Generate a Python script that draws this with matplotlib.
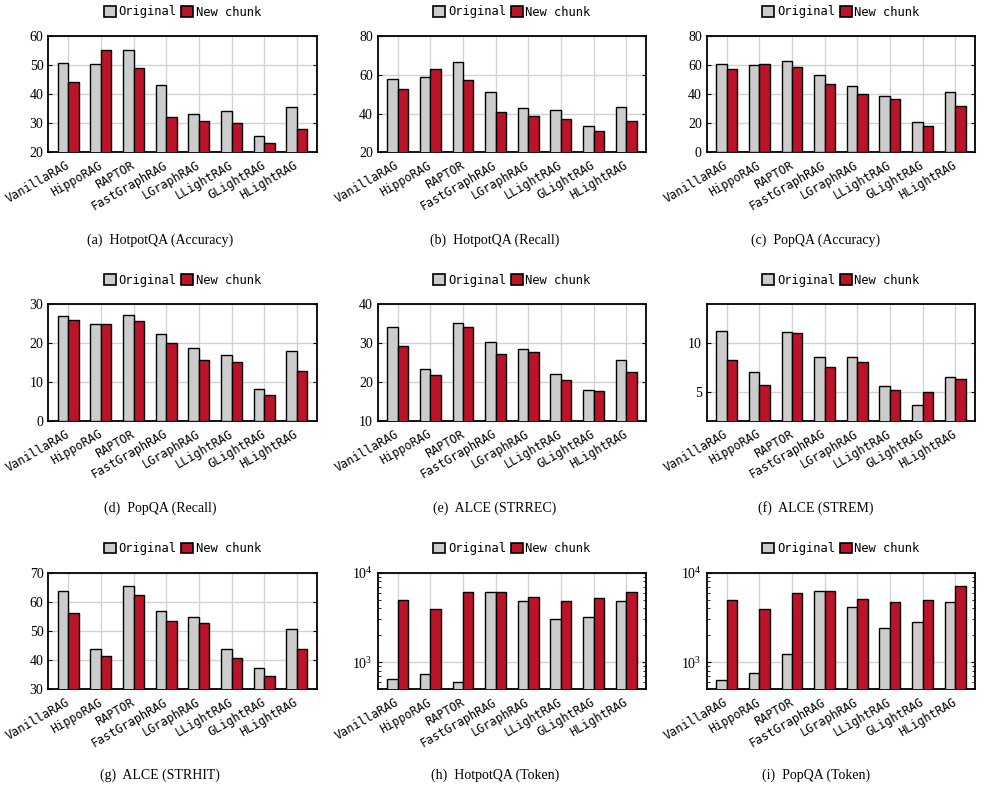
import numpy as np
import matplotlib
matplotlib.use("Agg")
import matplotlib.pyplot as plt
from matplotlib.patches import Patch
from matplotlib.ticker import LogLocator, NullFormatter, FixedLocator

plt.rcParams["font.family"] = ["Liberation Serif", "DejaVu Serif"]
plt.rcParams["mathtext.fontset"] = "stix"

methods = ["VanillaRAG", "HippoRAG", "RAPTOR", "FastGraphRAG", "LGraphRAG",
           "LLightRAG", "GLightRAG", "HLightRAG"]

hotpot_acc_orig = [50.8, 50.4, 55.3, 43.3, 33.2, 34.2, 25.7, 35.7]
hotpot_acc_new = [44.3, 55.2, 48.9, 32.3, 30.8, 30.0, 23.3, 27.9]
hotpot_rec_orig = [57.7, 58.9, 66.4, 51.1, 42.7, 41.8, 33.4, 43.4]
hotpot_rec_new = [52.7, 62.8, 57.3, 41.0, 38.9, 37.4, 31.0, 36.2]
popqa_acc_orig = [61.0, 59.8, 62.6, 53.4, 45.4, 39.0, 21.1, 41.3]
popqa_acc_new = [57.1, 60.5, 58.9, 46.8, 40.3, 36.4, 18.3, 31.6]
popqa_rec_orig = [27.0, 24.9, 27.3, 22.4, 18.7, 16.8, 8.2, 18.0]
popqa_rec_new = [25.9, 25.0, 25.7, 20.0, 15.6, 15.0, 6.7, 12.8]
alce_strrec_orig = [34.2, 23.3, 35.3, 30.2, 28.5, 22.0, 17.9, 25.6]
alce_strrec_new = [29.3, 21.7, 34.1, 27.3, 27.8, 20.6, 17.7, 22.5]
alce_strem_orig = [11.2, 6.97, 11.1, 8.59, 8.59, 5.62, 3.62, 6.55]
alce_strem_new = [8.24, 5.72, 11.0, 7.52, 8.07, 5.17, 4.9, 6.34]
alce_strhit_orig = [63.6, 43.7, 65.4, 56.9, 54.7, 43.8, 37.1, 50.5]
alce_strhit_new = [56.3, 41.5, 62.3, 53.4, 52.6, 40.5, 34.5, 43.8]
hotpot_tok_orig = [650, 727, 596, 6013, 4805, 3041, 3204, 4805]
hotpot_tok_new = [4975, 3942, 6115, 6115, 5375, 4805, 5192, 6061]
popqa_tok_orig = [638, 746, 1230, 6166, 4150, 2389, 2838, 4721]
popqa_tok_new = [4975, 3908, 5962, 6166, 5105, 4762, 4933, 7020]

captions = ["(a)  HotpotQA (Accuracy)", "(b)  HotpotQA (Recall)", "(c)  PopQA (Accuracy)",
            "(d)  PopQA (Recall)", "(e)  ALCE (STRREC)", "(f)  ALCE (STREM)",
            "(g)  ALCE (STRHIT)", "(h)  HotpotQA (Token)", "(i)  PopQA (Token)"]

# (orig, new, ylim, yticks, log)
panels = [
    (hotpot_acc_orig, hotpot_acc_new, (20, 60), [20, 30, 40, 50, 60], False),
    (hotpot_rec_orig, hotpot_rec_new, (20, 80), [20, 40, 60, 80], False),
    (popqa_acc_orig, popqa_acc_new, (0, 80), [0, 20, 40, 60, 80], False),
    (popqa_rec_orig, popqa_rec_new, (0, 30), [0, 10, 20, 30], False),
    (alce_strrec_orig, alce_strrec_new, (10, 40), [10, 20, 30, 40], False),
    (alce_strem_orig, alce_strem_new, (2, 14), [5, 10], False),
    (alce_strhit_orig, alce_strhit_new, (30, 70), [30, 40, 50, 60, 70], False),
    (hotpot_tok_orig, hotpot_tok_new, (500, 10000), None, True),
    (popqa_tok_orig, popqa_tok_new, (500, 10000), None, True),
]

GRAY = "#cccccc"
RED = "#bb1429"
MONO = "DejaVu Sans Mono"

W, H = 983, 792
fig = plt.figure(figsize=(W / 100, H / 100), dpi=100)

col_left = [48.3, 377.7, 706.7]
row_top = [36.0, 304.3, 572.7]
ax_w, ax_h = 268.5, 116.3
cap_x = [160, 495, 816]
cap_y = [240, 508, 775]
bw = 0.32

for i, (orig, new, ylim, yticks, logy) in enumerate(panels):
    r, c = divmod(i, 3)
    ax = fig.add_axes([col_left[c] / W, 1 - (row_top[r] + ax_h) / H, ax_w / W, ax_h / H])
    x = np.arange(len(methods))
    if logy:
        ax.set_yscale("log")
    ax.bar(x - bw / 2, orig, bw, color=GRAY, edgecolor="black", lw=1.0, zorder=3)
    ax.bar(x + bw / 2, new, bw, color=RED, edgecolor="black", lw=1.0, zorder=3)
    ax.set_xlim(-0.61, len(methods) - 1 + 0.61)
    ax.set_ylim(*ylim)
    if logy:
        ax.yaxis.set_major_locator(FixedLocator([1000, 10000]))
        ax.yaxis.set_minor_locator(LogLocator(base=10, subs=np.arange(2, 10)))
        ax.yaxis.set_minor_formatter(NullFormatter())
    else:
        ax.set_yticks(yticks)
    ax.set_xticks(x)
    ax.set_xticklabels(methods, rotation=30, ha="right", va="center",
                       rotation_mode="anchor", fontfamily=MONO, fontsize=8.5)
    ax.grid(True, which="major", color="#d2d2d2", lw=1.0)
    ax.set_axisbelow(True)
    ax.tick_params(axis="x", length=0, pad=9)
    ax.tick_params(axis="y", which="major", direction="in", length=3, right=True,
                   labelsize=10, pad=3.5)
    ax.tick_params(axis="y", which="minor", direction="in", length=2, right=True)
    for s in ax.spines.values():
        s.set_linewidth(1.3)

    handles = [Patch(facecolor=GRAY, edgecolor="black", lw=1.2),
               Patch(facecolor=RED, edgecolor="black", lw=1.2)]
    ax.legend(handles, ["Original", "New chunk"], loc="center",
              bbox_to_anchor=(0.5, 1 + 24 / ax_h), ncol=2, frameon=False,
              prop={"family": MONO, "size": 8.7}, handlelength=1.0, handleheight=1.0,
              handletextpad=0.2, columnspacing=0.4, borderpad=0, borderaxespad=0)

    fig.text(cap_x[c] / W, 1 - cap_y[r] / H, captions[i], ha="center", va="center",
             fontsize=10)

fig.savefig("out.png", dpi=100)
